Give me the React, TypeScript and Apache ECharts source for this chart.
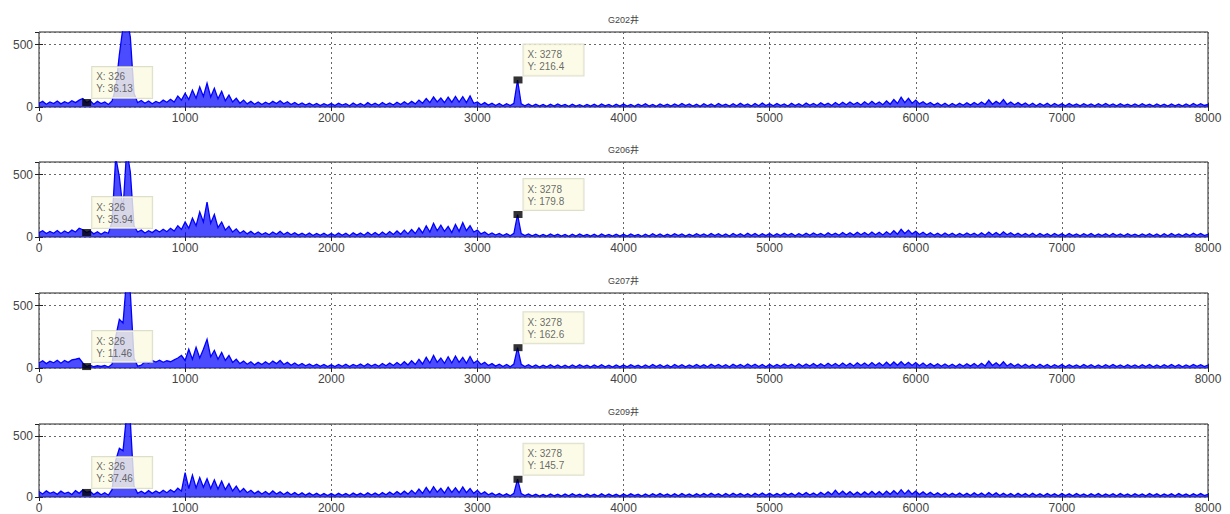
import React, { useEffect, useRef } from 'react';
import * as echarts from 'echarts';

// Spectrum sampled every FREQ_STEP (x axis 0..8000)
const FREQ_STEP = 25;
const wellNames = ['G202井', 'G206井', 'G207井', 'G209井'];

const g202 = [
  30, 45, 22, 40, 28, 48, 25, 42, 30, 50, 35, 55, 68, 36, 50, 22, 45, 28, 40, 20,
  48, 150, 420, 640, 720, 560, 110, 35, 52, 30, 48, 26, 45, 32, 55, 38, 62, 40, 88, 55,
  110, 60, 135, 70, 160, 85, 190, 80, 150, 65, 125, 50, 95, 40, 70, 30, 55, 25, 45, 22,
  40, 20, 38, 24, 45, 28, 50, 26, 42, 20, 36, 18, 32, 15, 30, 14, 28, 12, 26, 14,
  28, 12, 30, 15, 26, 10, 32, 14, 28, 12, 35, 16, 30, 14, 36, 18, 32, 16, 38, 20,
  42, 22, 45, 25, 55, 30, 68, 35, 80, 40, 72, 35, 78, 38, 85, 40, 82, 35, 88, 30,
  40, 18, 35, 15, 30, 12, 28, 10, 26, 12, 30, 216, 25, 10, 24, 8, 22, 8, 20, 6,
  22, 8, 25, 10, 20, 6, 22, 8, 18, 6, 20, 8, 22, 6, 24, 10, 20, 6, 22, 8,
  24, 8, 20, 6, 22, 10, 26, 8, 20, 6, 24, 10, 22, 8, 25, 10, 28, 12, 24, 8,
  22, 6, 26, 10, 24, 8, 28, 12, 22, 8, 26, 10, 30, 12, 24, 8, 28, 10, 32, 12,
  26, 10, 28, 12, 24, 8, 30, 12, 26, 10, 32, 14, 28, 12, 34, 15, 30, 12, 36, 16,
  38, 18, 40, 20, 36, 16, 42, 20, 45, 22, 40, 18, 48, 22, 60, 28, 78, 35, 70, 30,
  55, 25, 42, 20, 36, 15, 32, 12, 30, 10, 28, 12, 30, 14, 34, 15, 36, 18, 40, 20,
  58, 22, 45, 25, 60, 20, 40, 18, 35, 15, 32, 12, 30, 10, 28, 12, 30, 10, 28, 12,
  26, 10, 28, 12, 25, 10, 27, 12, 24, 10, 26, 12, 28, 12, 24, 10, 26, 12, 22, 10,
  24, 10, 26, 12, 22, 8, 24, 10, 22, 8, 24, 10, 22, 8, 25, 10, 28, 12, 26, 12,
  20,
];

const g206 = [
  35, 50, 28, 45, 30, 52, 28, 48, 32, 55, 40, 70, 58, 36, 48, 25, 42, 22, 40, 30,
  120, 640, 480, 220, 700, 520, 90, 40, 55, 32, 50, 35, 58, 40, 62, 42, 70, 48, 90, 60,
  120, 70, 150, 90, 200, 120, 280, 110, 180, 75, 120, 55, 85, 40, 65, 30, 50, 25, 45, 22,
  40, 20, 35, 18, 40, 22, 45, 20, 38, 18, 34, 15, 30, 14, 32, 12, 28, 14, 30, 12,
  28, 12, 32, 14, 30, 10, 34, 15, 32, 14, 38, 16, 36, 15, 40, 18, 44, 20, 48, 22,
  55, 25, 60, 28, 72, 32, 90, 40, 110, 50, 95, 45, 85, 35, 100, 45, 115, 50, 90, 40,
  55, 25, 40, 18, 32, 15, 28, 12, 26, 10, 30, 180, 28, 12, 24, 10, 22, 8, 20, 8,
  24, 10, 22, 8, 20, 6, 22, 8, 24, 10, 20, 8, 22, 6, 24, 10, 20, 8, 22, 8,
  22, 8, 24, 10, 20, 6, 22, 8, 26, 10, 24, 8, 22, 10, 26, 12, 24, 8, 22, 10,
  26, 12, 24, 10, 28, 12, 26, 10, 24, 8, 28, 12, 26, 10, 30, 12, 28, 10, 26, 12,
  28, 10, 26, 12, 30, 14, 28, 10, 26, 12, 30, 14, 32, 15, 28, 12, 34, 16, 30, 14,
  36, 16, 34, 15, 38, 18, 36, 16, 40, 18, 38, 16, 42, 20, 50, 22, 62, 28, 55, 25,
  45, 20, 38, 16, 34, 14, 30, 12, 32, 14, 30, 12, 28, 14, 32, 15, 30, 12, 34, 14,
  40, 16, 36, 15, 42, 18, 34, 14, 30, 12, 28, 12, 30, 10, 28, 12, 26, 10, 28, 12,
  26, 10, 28, 12, 24, 10, 26, 12, 28, 10, 24, 12, 26, 10, 28, 12, 24, 10, 26, 12,
  22, 10, 24, 12, 26, 10, 24, 8, 26, 10, 28, 12, 24, 10, 26, 12, 30, 14, 28, 12,
  22,
];

const g207 = [
  40, 58, 35, 55, 42, 62, 38, 60, 45, 65, 70, 78, 40, 12, 22, 10, 18, 12, 20, 8,
  30, 250, 390, 360, 720, 600, 80, 15, 22, 50, 40, 60, 48, 62, 45, 58, 50, 65, 80, 100,
  60, 150, 70, 165, 80, 150, 230, 90, 140, 70, 125, 60, 100, 45, 70, 35, 55, 30, 50, 25,
  45, 28, 50, 30, 55, 35, 60, 28, 45, 22, 40, 20, 36, 18, 32, 15, 30, 14, 28, 12,
  26, 12, 28, 14, 30, 12, 28, 15, 32, 14, 34, 16, 30, 14, 36, 18, 40, 20, 44, 22,
  50, 24, 58, 28, 70, 32, 85, 40, 100, 45, 80, 38, 90, 40, 95, 45, 85, 38, 92, 40,
  60, 28, 45, 20, 35, 15, 30, 12, 28, 10, 32, 163, 30, 12, 26, 10, 24, 8, 22, 10,
  26, 10, 24, 8, 22, 8, 24, 10, 26, 12, 22, 8, 24, 10, 26, 10, 22, 8, 24, 10,
  24, 10, 26, 12, 22, 8, 24, 10, 28, 12, 26, 10, 24, 8, 28, 12, 26, 10, 24, 12,
  28, 12, 26, 10, 30, 14, 28, 12, 26, 10, 30, 14, 28, 12, 32, 14, 30, 12, 28, 10,
  30, 12, 28, 14, 32, 15, 30, 12, 34, 14, 32, 16, 36, 15, 34, 16, 38, 18, 36, 16,
  40, 18, 38, 16, 42, 20, 40, 18, 44, 20, 42, 18, 46, 20, 48, 22, 50, 22, 46, 20,
  44, 18, 40, 16, 36, 15, 34, 14, 32, 14, 30, 12, 32, 14, 34, 15, 36, 14, 38, 16,
  55, 20, 42, 18, 50, 16, 36, 14, 32, 12, 30, 12, 28, 10, 30, 12, 28, 10, 26, 12,
  28, 10, 26, 12, 24, 10, 28, 12, 26, 10, 24, 10, 26, 12, 28, 12, 24, 10, 26, 12,
  24, 10, 26, 12, 28, 10, 24, 10, 26, 12, 28, 12, 26, 10, 24, 12, 28, 14, 26, 12,
  24,
];

const g209 = [
  45, 25, 50, 30, 42, 22, 48, 28, 40, 20, 52, 30, 58, 38, 45, 20, 40, 18, 35, 15,
  60, 300, 400, 380, 680, 620, 90, 30, 48, 28, 52, 30, 50, 32, 55, 35, 60, 40, 72, 48,
  200, 70, 180, 75, 160, 80, 150, 70, 140, 65, 130, 60, 110, 50, 90, 42, 70, 35, 55, 28,
  48, 25, 45, 22, 50, 25, 42, 20, 40, 18, 36, 16, 34, 15, 32, 14, 30, 12, 28, 12,
  28, 12, 30, 14, 28, 12, 32, 15, 30, 14, 34, 16, 32, 15, 36, 18, 40, 20, 44, 22,
  48, 24, 55, 26, 65, 30, 78, 35, 85, 40, 72, 32, 80, 38, 76, 35, 82, 36, 70, 30,
  55, 25, 42, 18, 32, 14, 28, 12, 26, 10, 30, 146, 28, 12, 24, 10, 22, 8, 20, 8,
  24, 10, 22, 8, 24, 10, 26, 12, 22, 8, 24, 10, 22, 8, 26, 10, 24, 10, 22, 8,
  24, 10, 26, 12, 22, 8, 24, 10, 26, 12, 28, 12, 24, 10, 26, 10, 28, 12, 24, 10,
  26, 12, 28, 12, 30, 14, 26, 10, 28, 12, 30, 14, 28, 12, 26, 10, 30, 14, 32, 14,
  30, 12, 28, 14, 32, 15, 30, 12, 34, 16, 36, 16, 32, 14, 38, 18, 42, 20, 55, 22,
  48, 20, 44, 18, 40, 18, 42, 20, 46, 20, 44, 18, 48, 22, 52, 24, 60, 26, 56, 24,
  48, 20, 42, 18, 38, 16, 34, 14, 32, 12, 30, 14, 32, 12, 30, 12, 34, 14, 32, 12,
  36, 14, 34, 12, 30, 12, 28, 10, 30, 12, 28, 10, 30, 12, 26, 10, 28, 12, 26, 10,
  28, 12, 26, 10, 28, 12, 24, 10, 26, 12, 28, 10, 24, 12, 26, 10, 28, 12, 24, 10,
  26, 12, 24, 10, 28, 12, 26, 10, 24, 12, 26, 10, 28, 12, 24, 10, 26, 12, 28, 12,
  22,
];

const spectra = [g202, g206, g207, g209];

// Data tips (MATLAB style)
const tipX = [326, 3278];
const tipY202 = [36.13, 216.4];
const tipY206 = [35.94, 179.8];
const tipY207 = [11.46, 162.6];
const tipY209 = [37.46, 145.7];
const tipYs = [tipY202, tipY206, tipY207, tipY209];

const FONT = '"Liberation Sans", Arial, "Noto Sans CJK SC", sans-serif';

export default function App() {
  const ref = useRef<HTMLDivElement>(null);
  useEffect(() => {
    if (!ref.current) return;
    const chart = echarts.init(ref.current, null, { renderer: 'svg' });
    const tops = [32, 162, 293, 424];
    const plotH = 75;
    const left = 39;
    const right = 22;

    const grid = tops.map((t) => ({
      left,
      right,
      top: t,
      height: plotH,
      show: true,
      borderColor: '#222',
      borderWidth: 1,
      backgroundColor: '#fff',
    }));

    const gridLine = { show: true, lineStyle: { color: '#666', type: [2, 3] as any, width: 1 } };
    const tickStyle = { show: true, inside: true, length: 4, lineStyle: { color: '#222' } };
    const labelStyle = { fontSize: 12, color: '#444', fontFamily: FONT, formatter: (v: number) => String(v) };

    const xAxis: any[] = [];
    const yAxis: any[] = [];
    tops.forEach((_, i) => {
      xAxis.push({
        type: 'value', gridIndex: i, min: 0, max: 8000, interval: 1000,
        axisLine: { show: false }, axisTick: tickStyle,
        axisLabel: { ...labelStyle, margin: 5 },
        splitLine: gridLine,
      });
      yAxis.push({
        type: 'value', gridIndex: i, min: 0, max: 600, interval: 500,
        axisLine: { show: false }, axisTick: tickStyle,
        axisLabel: { ...labelStyle, margin: 6, showMaxLabel: false },
        splitLine: gridLine,
      });
    });
    tops.forEach((_, i) => {
      xAxis.push({
        type: 'value', gridIndex: i, position: 'top', min: 0, max: 8000, interval: 1000,
        axisLine: { show: false }, axisTick: tickStyle, axisLabel: { show: false }, splitLine: { show: false },
      });
      yAxis.push({
        type: 'value', gridIndex: i, position: 'right', min: 0, max: 600, interval: 500,
        axisLine: { show: false }, axisTick: tickStyle, axisLabel: { show: false }, splitLine: { show: false },
      });
    });

    const series: any[] = [];
    spectra.forEach((vals, i) => {
      series.push({
        type: 'line', xAxisIndex: i, yAxisIndex: i, silent: true,
        data: vals.map((v, k) => [k * FREQ_STEP, v]),
        symbol: 'none', showSymbol: false, clip: true, z: 2,
        lineStyle: { color: '#0000ff', width: 1.3, join: 'miter' },
        areaStyle: { color: '#1010ff', opacity: 0.75 },
      });
    });
    tipYs.forEach((ys, i) => {
      series.push({
        type: 'scatter', xAxisIndex: i, yAxisIndex: i, silent: true, z: 10,
        data: tipX.map((x, k) => [x, ys[k]]),
        symbol: 'rect', symbolSize: [9, 7],
        itemStyle: { color: '#000' },
        label: {
          show: true,
          position: [10, -1],
          align: 'left',
          verticalAlign: 'bottom',
          formatter: (p: any) => `X: ${p.value[0]}\nY: ${p.value[1]}`,
          fontSize: 10,
          lineHeight: 12,
          fontFamily: FONT,
          color: '#444',
          backgroundColor: '#fafae2',
          borderColor: '#d6d6c0',
          borderWidth: 1,
          padding: [4, 12, 3, 4],
          width: 44,
        },
      });
    });

    const graphic = wellNames.map((name, i) => ({
      type: 'text',
      x: left + (1230 - left - right) / 2,
      y: tops[i] - 12,
      style: {
        text: name, fontSize: 9, fill: '#444', fontFamily: FONT,
        textAlign: 'center', textVerticalAlign: 'middle',
      },
    }));

    chart.setOption({
      animation: false,
      backgroundColor: '#fff',
      grid,
      xAxis,
      yAxis,
      series,
      graphic,
    });
    return () => chart.dispose();
  }, []);
  return (
    <div
      ref={ref}
      style={{ position: 'absolute', left: 0, top: 0, width: 1230, height: 514, background: '#fff' }}
    />
  );
}
